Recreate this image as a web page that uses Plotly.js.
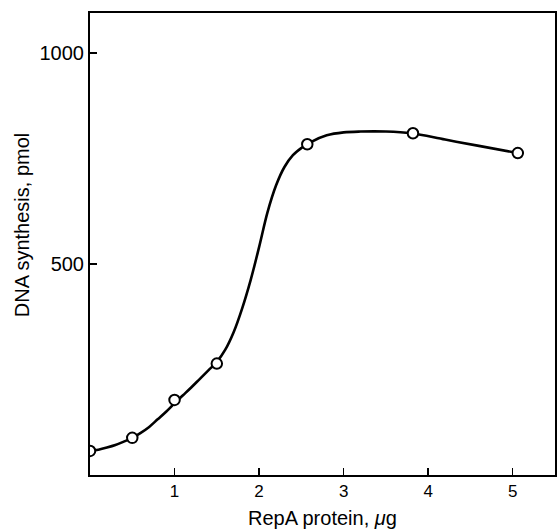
<!DOCTYPE html>
<html>
<head>
<meta charset="utf-8">
<script src="https://cdn.plot.ly/plotly-3.0.1.min.js"></script>
<style>html,body{margin:0;padding:0;background:#fff;}#chart{width:560px;height:529px;}</style>
</head>
<body>
<div id="chart"></div>
<script>
// Measured data points (RepA protein, µg vs DNA synthesis, pmol)
const repA = [0, 0.5, 1.0, 1.5, 2.57, 3.82, 5.06];
const dnaSynthesis = [57, 88, 178, 264, 784, 810, 763];

// Hand-drawn fitted curve
const curveX = [0, 0.1, 0.2, 0.3, 0.4, 0.5, 0.6, 0.7, 0.8, 0.9, 1.0, 1.1, 1.2, 1.3, 1.4, 1.5, 1.6, 1.7, 1.8, 1.9, 2.0, 2.1, 2.2, 2.3, 2.4, 2.5, 2.6, 2.8, 3.0, 3.2, 3.5, 3.8, 4.2, 4.6, 5.06];
const curveY = [57, 60, 65, 71, 79, 88, 100, 114, 132, 150, 170, 189, 208, 228, 248, 268, 297, 339, 395, 462, 540, 623, 686, 730, 758, 775, 788, 805, 812, 814, 814, 810, 795, 780, 763];

const xTickVals = [1, 2, 3, 4, 5];
const xTickText = ['1', '2', '3', '4', '5'];
const yTickVals = [500, 1000];
const yTickText = ['500', '1000'];
const xTitle = 'RepA protein, <i>μ</i>g';
const yTitle = 'DNA synthesis, pmol';

const fontFam = '"Liberation Sans", Arial, Helvetica, sans-serif';

const traces = [
  {
    x: curveX, y: curveY, type: 'scatter', mode: 'lines',
    line: {color: '#000', width: 2.6, shape: 'spline', smoothing: 1},
    hoverinfo: 'skip', showlegend: false
  },
  {
    x: repA, y: dnaSynthesis, type: 'scatter', mode: 'markers',
    marker: {symbol: 'circle', size: 10.5, color: '#fff', line: {color: '#000', width: 2}},
    showlegend: false
  }
];

const layout = {
  width: 560, height: 529,
  margin: {l: 90, r: 5, t: 13, b: 54},
  paper_bgcolor: '#fff', plot_bgcolor: '#fff',
  showlegend: false,
  font: {family: fontFam, color: '#000'},
  xaxis: {
    range: [0, 5.5],
    tickvals: xTickVals, ticktext: xTickText,
    ticks: 'inside', ticklen: 7, tickwidth: 1.5, tickcolor: '#000',
    showline: true, linecolor: '#000', linewidth: 2, mirror: true,
    showgrid: false, zeroline: false,
    tickfont: {family: fontFam, size: 17, color: '#000'}
  },
  yaxis: {
    range: [0, 1095],
    tickvals: yTickVals, ticktext: yTickText,
    ticks: 'inside', ticklen: 7, tickwidth: 1.5, tickcolor: '#000',
    showline: true, linecolor: '#000', linewidth: 2, mirror: true,
    showgrid: false, zeroline: false,
    tickfont: {family: fontFam, size: 20, color: '#000'}
  },
  annotations: [
    {text: xTitle, xref: 'paper', yref: 'paper', x: 0.5, y: -0.093,
     xanchor: 'center', yanchor: 'middle', showarrow: false,
     font: {family: fontFam, size: 20, color: '#000'}},
    {text: yTitle, xref: 'paper', yref: 'paper', x: -0.147, y: 0.542,
     xanchor: 'center', yanchor: 'middle', showarrow: false, textangle: -90,
     font: {family: fontFam, size: 20, color: '#000'}}
  ]
};

Plotly.newPlot('chart', traces, layout, {displayModeBar: false, staticPlot: true});
</script>
</body>
</html>
